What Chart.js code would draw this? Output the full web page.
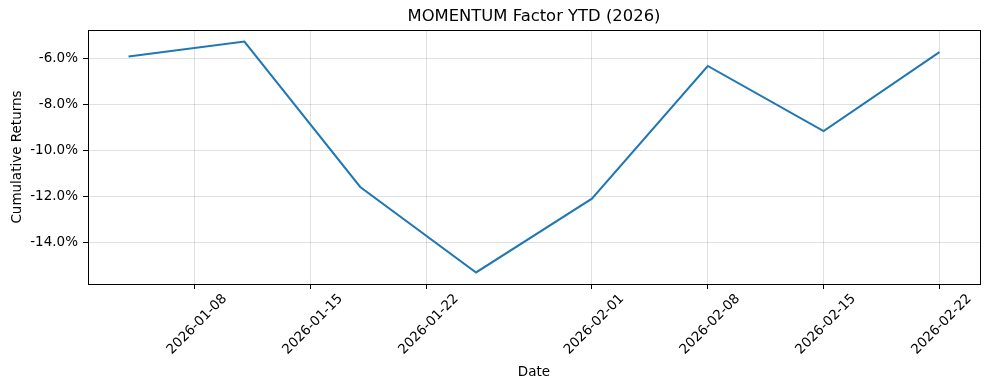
<!DOCTYPE html>
<html>
<head>
<meta charset="utf-8">
<script src="https://cdn.jsdelivr.net/npm/chart.js@4/dist/chart.umd.min.js"></script>
<style>
  html, body { margin: 0; padding: 0; background: #ffffff; }
  #wrap { width: 989px; height: 390px; position: relative; }
</style>
</head>
<body>
<div id="wrap"><canvas id="c" width="989" height="390"></canvas></div>
<script>
// ---- data ----
const dates = ["2026-01-04", "2026-01-11", "2026-01-18", "2026-01-25", "2026-02-01", "2026-02-08", "2026-02-15", "2026-02-22"];
const cumulativeReturns = [-5.93, -5.28, -11.59, -15.30, -12.10, -6.34, -9.17, -5.74];
const xTickLabels = ["2026-01-08", "2026-01-15", "2026-01-22", "2026-02-01", "2026-02-08", "2026-02-15", "2026-02-22"];
const yTickValues = [-14, -12, -10, -8, -6];
const titleText = "MOMENTUM Factor YTD (2026)";
const xAxisLabel = "Date";
const yAxisLabel = "Cumulative Returns";

// ---- helpers ----
const DAY = 86400000;
const base = Date.UTC(2026, 0, 1);
function dayNum(s) {
  const p = s.split("-").map(Number);
  return (Date.UTC(p[0], p[1] - 1, p[2]) - base) / DAY;
}
const xs = dates.map(dayNum);
const xTickDays = xTickLabels.map(dayNum);
const points = xs.map((x, i) => ({ x: x, y: cumulativeReturns[i] }));

// matplotlib-like 5% margins
const xMinD = Math.min(...xs), xMaxD = Math.max(...xs);
const xm = (xMaxD - xMinD) * 0.05;
const yMinD = Math.min(...cumulativeReturns), yMaxD = Math.max(...cumulativeReturns);
const ym = (yMaxD - yMinD) * 0.05;

const FONT = "'DejaVu Sans', sans-serif";

const framePlugin = {
  id: 'frame',
  afterDraw(chart) {
    const { ctx, chartArea: a } = chart;
    ctx.save();
    ctx.strokeStyle = '#000';
    ctx.lineWidth = 1;
    ctx.strokeRect(Math.round(a.left) + 0.5, Math.round(a.top) + 0.5, Math.round(a.right - a.left), Math.round(a.bottom - a.top));
    ctx.fillStyle = '#000';
    ctx.textAlign = 'center';
    ctx.textBaseline = 'middle';
    const cx = (a.left + a.right) / 2;
    ctx.font = "16.4px " + FONT;
    ctx.fillText(titleText, cx, a.top - 13);
    ctx.font = "13.5px " + FONT;
    ctx.fillText(xAxisLabel, cx, 372);
    ctx.translate(17, (a.top + a.bottom) / 2);
    ctx.rotate(-Math.PI / 2);
    ctx.fillText(yAxisLabel, 0, 0);
    ctx.restore();
  }
};

new Chart(document.getElementById('c'), {
  type: 'line',
  data: {
    datasets: [{
      data: points,
      borderColor: '#1f77b4',
      borderWidth: 2,
      pointRadius: 0,
      fill: false,
      tension: 0
    }]
  },
  options: {
    responsive: false,
    animation: false,
    parsing: true,
    layout: { padding: { left: 0, right: 9, top: 30, bottom: 0 } },
    plugins: { legend: { display: false }, tooltip: { enabled: false }, title: { display: false } },
    scales: {
      x: {
        type: 'linear',
        min: xMinD - xm,
        max: xMaxD + xm,
        afterBuildTicks(scale) { scale.ticks = xTickDays.map(v => ({ value: v })); },
        afterFit(scale) { scale.height = 106; },
        grid: { color: 'rgba(0,0,0,0.12)', lineWidth: 1, tickColor: '#000', tickLength: 5, drawTicks: true },
        border: { display: true, color: '#000', width: 1 },
        ticks: {
          autoSkip: false,
          maxRotation: 45,
          minRotation: 45,
          labelOffset: 30,
          padding: 2,
          color: '#000',
          font: { family: FONT, size: 13.5 },
          callback(v) { const i = xTickDays.indexOf(v); return i >= 0 ? xTickLabels[i] : ''; }
        }
      },
      y: {
        type: 'linear',
        min: yMinD - ym,
        max: yMaxD + ym,
        afterBuildTicks(scale) { scale.ticks = yTickValues.map(v => ({ value: v })); },
        afterFit(scale) { scale.width = 88; },
        grid: { color: 'rgba(0,0,0,0.12)', lineWidth: 1, tickColor: '#000', tickLength: 5, drawTicks: true },
        border: { display: true, color: '#000', width: 1 },
        ticks: {
          autoSkip: false,
          padding: 5,
          color: '#000',
          font: { family: FONT, size: 13.5 },
          callback(v) { return v.toFixed(1) + '%'; }
        }
      }
    }
  },
  plugins: [framePlugin]
});
</script>
</body>
</html>
